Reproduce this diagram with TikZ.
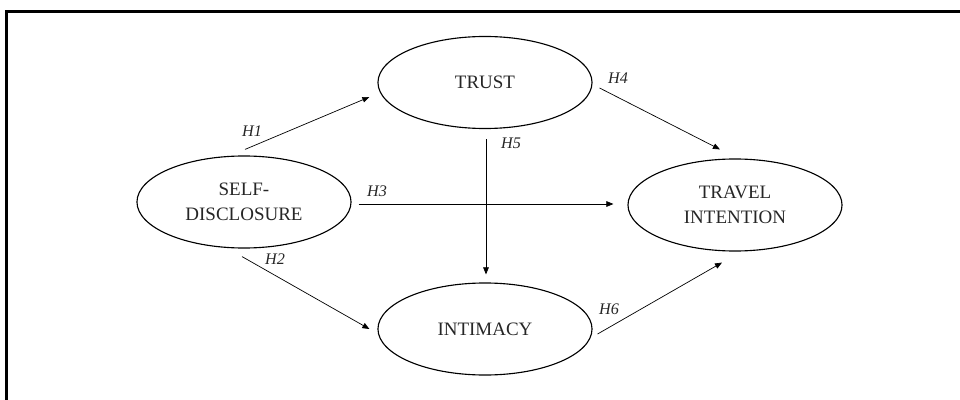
\documentclass[tikz,border=0pt]{standalone}
\usepackage{fontspec}
\setmainfont{Liberation Serif}
\usetikzlibrary{calc}
\usetikzlibrary{shapes.geometric}
\usetikzlibrary{arrows.meta}
\tikzset{
  construct/.style={draw, line width=0.8pt, ellipse, minimum width=5.35cm, minimum height=2.3cm,
    align=center, inner sep=0pt, font=\fontsize{13.5}{17.8}\selectfont, text=black!85},
  hyp/.style={font=\fontsize{11.5}{13}\itshape, text=black!85, inner sep=0pt},
  path/.style={line width=0.5pt, -{Triangle[length=5pt,width=4pt]}}
}

\begin{document}
\begin{tikzpicture}[x=0.025cm, y=-0.025cm]
        \useasboundingbox (0,0) rectangle (960,400);
        % frame
        \draw[line width=2.1pt] (6.7,400) -- (6.7,11.3) -- (960,11.3);
        % constructs
        \node[construct] (self) at (244,202) {SELF-\\DISCLOSURE};
        \node[construct] (trust) at (485,82.5) {TRUST};
        \node[construct] (intim) at (485,329) {INTIMACY};
        \node[construct] (travel) at (735,205) {TRAVEL\\INTENTION};
        % paths
        \draw[path] ($(self.north)+(1,-6)$) -- ($(trust.west)+(-8,14.5)$);
        \draw[path] ($(self.south)+(-2,8)$) -- ($(intim.west)+(-8,0)$);
        \draw[path] ($(self.east)+(7,2)$) -- ($(travel.west)+(-14,-1)$);
        \draw[path] ($(trust.east)+(7,5.5)$) -- ($(travel.north)+(-15,-9)$);
        \draw[path] ($(trust.south)+(1,10)$) -- ($(intim.north)+(1,-8)$);
        \draw[path] ($(intim.east)+(5,5)$) -- ($(travel.south)+(-13,11)$);
        % labels
        \node[hyp] (h1) at (252,131) {H1};
        \node[hyp] (h2) at (275,259) {H2};
        \node[hyp] (h3) at (377,191.5) {H3};
        \node[hyp] (h4) at (618,78) {H4};
        \node[hyp] (h5) at (511,143) {H5};
        \node[hyp] (h6) at (609,309) {H6};
    \end{tikzpicture}
\end{document}
